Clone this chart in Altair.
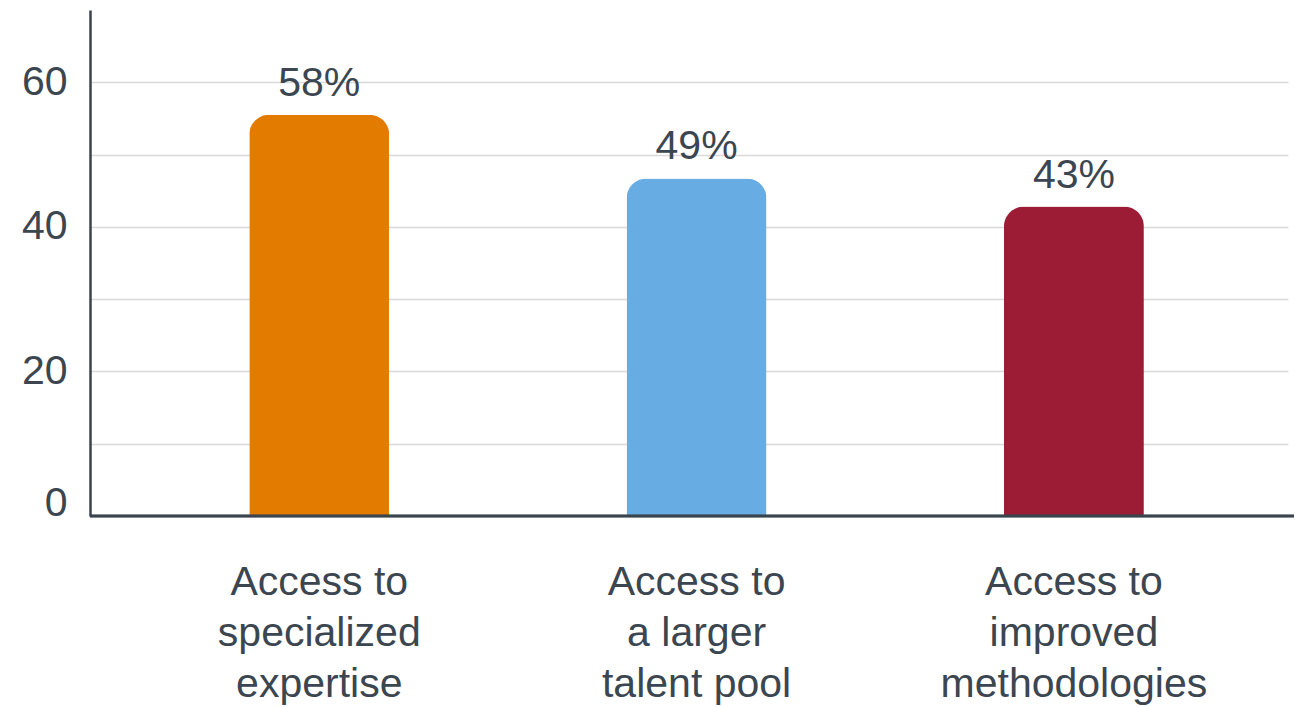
import altair as alt
import pandas as pd

categories = [
    "Access to\nspecialized\nexpertise",
    "Access to\na larger\ntalent pool",
    "Access to\nimproved\nmethodologies",
]
bar_values = [55.5, 46.7, 42.8]
pct_labels = ["58%", "49%", "43%"]
bar_colors = ["#E27B00", "#67ACE3", "#9C1C36"]
grid_ticks = [0, 10, 20, 30, 40, 50, 60]

df = pd.DataFrame({"cat": categories, "value": bar_values, "label": pct_labels})

FONT = "Liberation Sans"
TEXT_COLOR = "#3b4650"
AXIS_COLOR = "#3a444e"
W, H = 1198, 506

x = alt.X(
    "cat:N",
    sort=categories,
    title=None,
    scale=alt.Scale(paddingInner=0.629, paddingOuter=0.402, align=0.525),
    axis=alt.Axis(
        labelAngle=0,
        labelExpr="split(datum.label, '\\n')",
        labelFont=FONT,
        labelFontSize=41,
        labelColor=TEXT_COLOR,
        labelLineHeight=51,
        labelBaseline="top",
        labelPadding=46,
        labelLimit=0,
        ticks=False,
        domain=False,
        grid=False,
    ),
)

y = alt.Y(
    "value:Q",
    title=None,
    scale=alt.Scale(domain=[0, 70], nice=False, zero=True),
    axis=alt.Axis(
        values=grid_ticks,
        labelExpr="datum.value % 20 == 0 ? datum.label : ''",
        labelFont=FONT,
        labelFontSize=41,
        labelColor=TEXT_COLOR,
        labelPadding=23,
        labelFlush=True,
        labelFlushOffset=8,
        ticks=False,
        domain=True,
        domainColor=AXIS_COLOR,
        domainWidth=2.5,
        grid=True,
        gridColor="#d9d9d9",
        gridWidth=1.5,
    ),
)

base = alt.Chart(df).encode(x=x, y=y)

bars = base.mark_bar(cornerRadiusTopLeft=20, cornerRadiusTopRight=20).encode(
    color=alt.Color("cat:N", sort=categories, scale=alt.Scale(domain=categories, range=bar_colors), legend=None),
)

texts = base.mark_text(
    baseline="alphabetic", dy=-19, font=FONT, fontSize=41, color=TEXT_COLOR
).encode(text="label:N")

base_line = alt.Chart(df).mark_rule(color=AXIS_COLOR, strokeWidth=2.5).encode(
    x=alt.value(0), x2=alt.value(W + 6), y=alt.value(H)
)

chart = (
    alt.layer(bars, texts, base_line)
    .properties(
        width=W,
        height=H,
        background="white",
        autosize=alt.AutoSizeParams(type="none"),
        padding={"left": 82, "top": 2, "right": 6, "bottom": 189},
    )
    .configure_view(strokeWidth=0, stroke="transparent")
)

chart.save("out.html", embed_options={"renderer": "svg", "actions": False})
